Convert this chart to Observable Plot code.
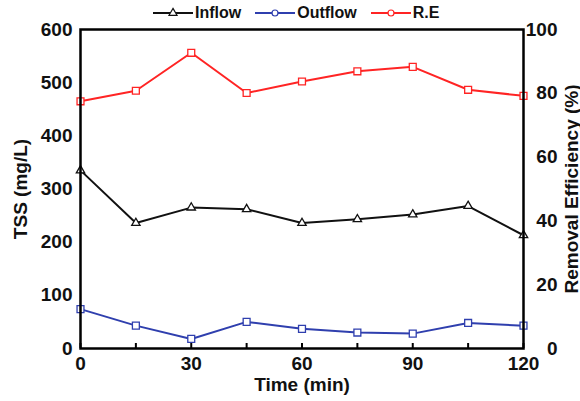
<!DOCTYPE html>
<html><head><meta charset="utf-8">
<script src="https://cdn.jsdelivr.net/npm/d3@7"></script>
<script src="https://cdn.jsdelivr.net/npm/@observablehq/plot@0.6"></script>
<style>
body{margin:0;background:#fff;}
#wrap{position:relative;width:580px;height:401px;overflow:hidden;font-family:"Liberation Sans",Arial,sans-serif;font-weight:bold;}
#legend{position:absolute;left:153px;top:4px;display:flex;align-items:center;font-size:16px;color:#111;z-index:2;}
#legend .item{display:flex;align-items:center;margin-right:14px;}
#legend svg{margin-right:2px;}
</style></head>
<body><div id="wrap"><div id="legend"></div><div id="chart"></div></div>
<script>
const time = [0, 15, 30, 45, 60, 75, 90, 105, 120];
const inflow = [335, 236, 265, 262, 236, 243, 252, 268, 213];
const outflow = [74, 43, 18, 50, 37, 30, 28, 48, 43];
const removal = [77.5, 80.8, 92.7, 80.1, 83.7, 86.9, 88.3, 81.1, 79.2];
const seriesNames = ["Inflow", "Outflow", "R.E"];
const seriesColors = ["#111111", "#2f3fae", "#ff2424"];
const seriesSymbols = ["triangle", "square", "square"];
const legendSymbols = ["triangle", "circle", "circle"];
const xTicks = [0, 15, 30, 45, 60, 75, 90, 105, 120];
const xTickLabels = [0, 30, 60, 90, 120];
const leftTicks = [0, 100, 200, 300, 400, 500, 600];
const rightTicks = [0, 20, 40, 60, 80, 100];
const k = 6; // right axis (0-100 %) mapped onto left scale (0-600)

const rows = [];
time.forEach((t, i) => {
  rows.push({series: "Inflow", t, v: inflow[i]});
  rows.push({series: "Outflow", t, v: outflow[i]});
  rows.push({series: "R.E", t, v: removal[i] * k});
});

const W = 580, H = 401, mT = 29, mB = 53, tickLen = 5;
const font = '"Liberation Sans", Arial, sans-serif';
const chart = Plot.plot({
  width: W, height: H,
  marginLeft: 80, marginRight: 57, marginTop: mT, marginBottom: mB,
  style: {fontFamily: font, fontWeight: "bold", fontSize: "19px", color: "#111", background: "white"},
  x: {domain: [0, 120]},
  y: {domain: [0, 600]},
  color: {domain: seriesNames, range: seriesColors},
  symbol: {domain: seriesNames, range: seriesSymbols},
  marks: [
    Plot.tickX(xTicks, {x: d => d, stroke: "black", strokeWidth: 2, insetTop: H - mT - mB - tickLen}),
    Plot.axisX({ticks: xTickLabels, tickSize: 0, tickPadding: 8, label: "Time (min)", labelAnchor: "center", labelArrow: "none", labelOffset: 42}),
    Plot.axisY({ticks: leftTicks, tickSize: 0, tickPadding: 8, label: "TSS (mg/L)", labelAnchor: "center", labelArrow: "none", labelOffset: 67}),
    Plot.axisY({anchor: "right", ticks: rightTicks.map(d => d * k), tickFormat: d => d / k, tickSize: 0, tickPadding: 34, textAnchor: "end", label: "Removal Efficiency (%)", labelAnchor: "center", labelArrow: "none", labelOffset: 54}),
    Plot.line(rows, {x: "t", y: "v", z: "series", stroke: "series", strokeWidth: 2}),
    Plot.dot(rows.filter(d => d.series === "Inflow"), {x: "t", y: "v", symbol: "series", stroke: "series", fill: "white", r: 3.1, strokeWidth: 1.3}),
    Plot.dot(rows.filter(d => d.series !== "Inflow"), {x: "t", y: "v", symbol: "series", stroke: "series", fill: "white", r: 3.9, strokeWidth: 1.3}),
    Plot.frame({stroke: "black", strokeWidth: 2.5})
  ]
});
document.getElementById("chart").appendChild(chart);

const legend = d3.select("#legend");
seriesNames.forEach((name, i) => {
  const item = legend.append("div").attr("class", "item");
  const s = item.append("svg").attr("width", 40).attr("height", 12);
  s.append("line").attr("x1", 0).attr("x2", 40).attr("y1", 6).attr("y2", 6).attr("stroke", seriesColors[i]).attr("stroke-width", 2);
  s.append("path").attr("transform", "translate(20,6)")
    .attr("d", d3.symbol(legendSymbols[i] === "triangle" ? d3.symbolTriangle : d3.symbolCircle, 28)())
    .attr("fill", "white").attr("stroke", seriesColors[i]).attr("stroke-width", 1.2);
  item.append("span").text(name);
});
</script></body></html>
